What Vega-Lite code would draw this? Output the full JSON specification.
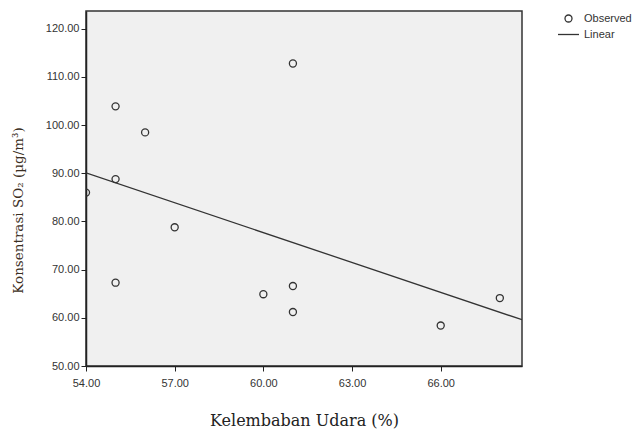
{
  "$schema": "https://vega.github.io/schema/vega-lite/v6.json",
  "autosize": "none",
  "width": 436,
  "height": 355,
  "padding": {"left": 86, "top": 11, "right": 117, "bottom": 64},
  "background": "white",
  "config": {
    "view": {"fill": "#f0f0f0", "stroke": "#333333", "strokeWidth": 1.5},
    "axis": {
      "grid": false,
      "domainColor": "#222222",
      "domainWidth": 1.5,
      "tickColor": "#222222",
      "tickSize": 5,
      "labelFont": "Liberation Sans",
      "labelFontSize": 11,
      "labelColor": "#333333",
      "labelFlush": false,
      "titleFontWeight": "normal",
      "titleFont": "DejaVu Serif"
    }
  },
  "datasets": {
    "obs": [
      {"kelembaban": 54, "so2": 86.0, "series": "Observed"},
      {"kelembaban": 55, "so2": 103.9, "series": "Observed"},
      {"kelembaban": 56, "so2": 98.5, "series": "Observed"},
      {"kelembaban": 55, "so2": 88.8, "series": "Observed"},
      {"kelembaban": 61, "so2": 112.8, "series": "Observed"},
      {"kelembaban": 57, "so2": 78.8, "series": "Observed"},
      {"kelembaban": 55, "so2": 67.3, "series": "Observed"},
      {"kelembaban": 60, "so2": 64.9, "series": "Observed"},
      {"kelembaban": 61, "so2": 66.6, "series": "Observed"},
      {"kelembaban": 61, "so2": 61.2, "series": "Observed"},
      {"kelembaban": 66, "so2": 58.4, "series": "Observed"},
      {"kelembaban": 68, "so2": 64.1, "series": "Observed"}
    ],
    "fit": [
      {"kelembaban": 54, "so2": 90.1},
      {"kelembaban": 68.75, "so2": 59.6}
    ]
  },
  "layer": [
    {
      "data": {"name": "fit"},
      "mark": {"type": "line", "color": "#333333", "strokeWidth": 1.3, "clip": true},
      "encoding": {
        "x": {"field": "kelembaban", "type": "quantitative"},
        "y": {"field": "so2", "type": "quantitative"}
      }
    },
    {
      "data": {"name": "obs"},
      "mark": {"type": "point", "filled": false, "stroke": "#333333", "strokeWidth": 1.3, "size": 50, "clip": true, "opacity": 1},
      "encoding": {
        "x": {
          "field": "kelembaban", "type": "quantitative",
          "scale": {"domain": [54, 68.75], "nice": false, "zero": false},
          "axis": {
            "values": [54, 57, 60, 63, 66], "format": ".2f",
            "labelPadding": 6,
            "title": "Kelembaban Udara (%)",
            "titleFontSize": 16, "titleColor": "#222222",
            "titleX": 218, "titleY": 54, "titleBaseline": "middle"
          }
        },
        "y": {
          "field": "so2", "type": "quantitative",
          "scale": {"domain": [50, 123.7], "nice": false, "zero": false},
          "axis": {
            "values": [50, 60, 70, 80, 90, 100, 110, 120], "format": ".2f",
            "title": "Konsentrasi SO₂ (µg/m³)",
            "titleFontSize": 13.5, "titleColor": "#3a2e22",
            "titleX": -68, "titleY": 199, "titleBaseline": "middle", "titleAngle": -90
          }
        },
        "shape": {
          "field": "series", "type": "nominal",
          "scale": {"domain": ["Observed", "Linear"], "range": ["circle", "M-3,0H3"]},
          "legend": {
            "title": null,
            "orient": "none",
            "legendX": 477,
            "legendY": 2,
            "symbolSize": 49,
            "symbolStrokeColor": "#333333",
            "symbolStrokeWidth": 1.3,
            "symbolFillColor": "transparent",
            "labelFont": "Liberation Sans",
            "labelFontSize": 11,
            "labelColor": "#333333",
            "labelOffset": 10,
            "rowPadding": 3
          }
        }
      }
    }
  ]
}
